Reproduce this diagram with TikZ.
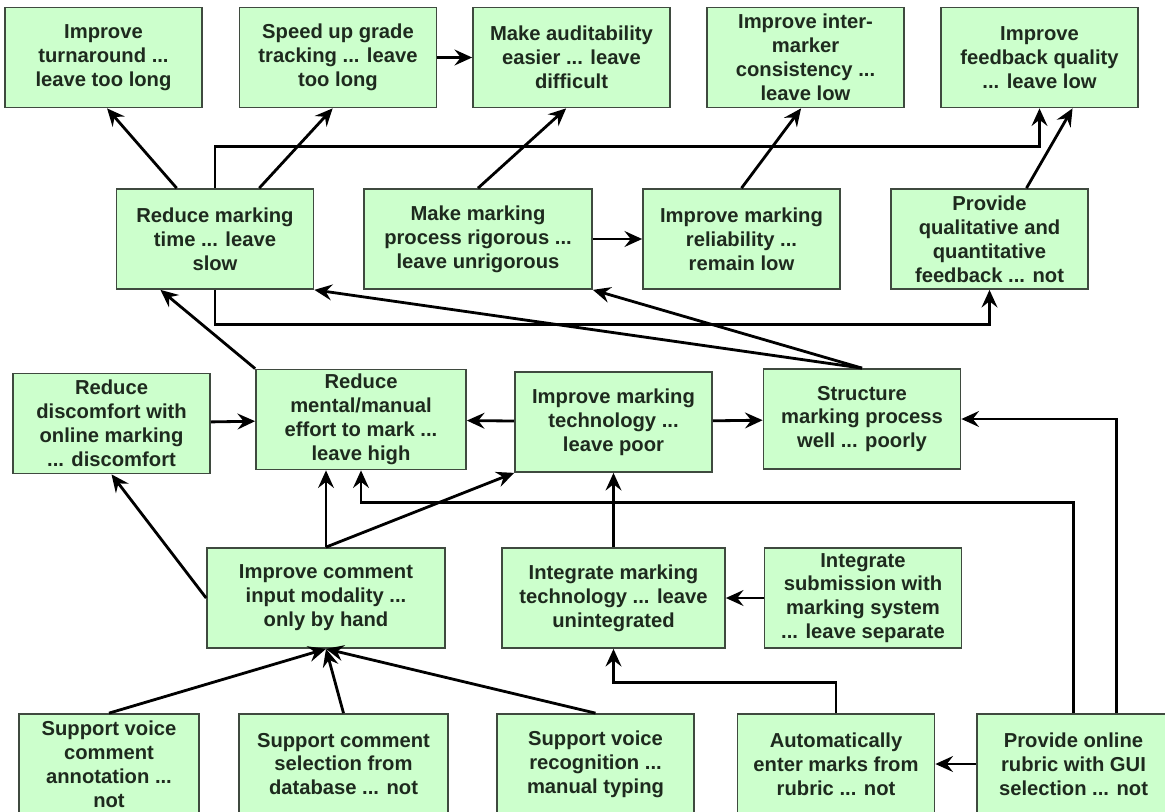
\documentclass[tikz,border=0pt]{standalone}
\usepackage{fontspec}
\setmainfont{Liberation Sans}
\usetikzlibrary{arrows.meta}
\definecolor{boxfill}{HTML}{CCFFCC}
\definecolor{boxline}{HTML}{3F4A3F}
\definecolor{boxtext}{HTML}{1E2A1E}
\begin{document}
\begin{tikzpicture}[x=0.02cm,y=-0.02cm,
	goal/.style={draw=boxline,line width=1pt,fill=boxfill,text=boxtext,
		font=\bfseries\fontsize{11.5}{13.6}\selectfont,align=center,inner sep=0pt,
		minimum width=3.94cm,minimum height=2cm},
	link/.style={line width=1.6pt,-{Stealth[length=10pt,width=9pt,inset=3.5pt]}}]
	\clip (0,0) rectangle (1165,811);
	% obere Reihe
	\node[goal] (turnaround) at (103.5,57.5) {Improve\\turnaround ...\\leave too long};
	\node[goal] (gradetrack) at (338,57.5) {Speed up grade\\tracking ... leave\\too long};
	\node[goal] (audit) at (571.5,57.5) {Make auditability\\easier ... leave\\difficult};
	\node[goal] (consist) at (805.5,57.5) {Improve inter-\\marker\\consistency ...\\leave low};
	\node[goal] (fbquality) at (1039.5,57.5) {Improve\\feedback quality\\... leave low};
	% zweite Reihe
	\node[goal] (marktime) at (215,239) {Reduce marking\\time ... leave\\slow};
	\node[goal,minimum width=4.56cm] (rigour) at (478,239) {Make marking\\process rigorous ...\\leave unrigorous};
	\node[goal] (reliab) at (741.5,239) {Improve marking\\reliability ...\\remain low};
	\node[goal] (qualfb) at (989.5,239) {Provide\\qualitative and\\quantitative\\feedback ... not};
	% dritte Reihe
	\node[goal] (discomfort) at (111.5,423.5) {Reduce\\discomfort with\\online marking\\... discomfort};
	\node[goal,minimum width=4.2cm] (effort) at (361,419.5) {Reduce\\mental/manual\\effort to mark ...\\leave high};
	\node[goal] (tech) at (613.5,422) {Improve marking\\technology ...\\leave poor};
	\node[goal] (structure) at (862,419) {Structure\\marking process\\well ... poorly};
	% vierte Reihe
	\node[goal,minimum width=4.76cm] (modality) at (326,598) {Improve comment\\input modality ...\\only by hand};
	\node[goal,minimum width=4.46cm] (integrate) at (613.5,598) {Integrate marking\\technology ... leave\\unintegrated};
	\node[goal] (submission) at (863,598) {Integrate\\submission with\\marking system\\... leave separate};
	% untere Reihe
	\node[goal,minimum width=3.6cm] (voiceann) at (109,764) {Support voice\\comment\\annotation ...\\not};
	\node[goal,minimum width=4.18cm] (commentdb) at (343.5,764) {Support comment\\selection from\\database ... not};
	\node[goal] (voicerec) at (595.5,764) {Support voice\\recognition ...\\manual typing};
	\node[goal] (automarks) at (836,764) {Automatically\\enter marks from\\rubric ... not};
	\node[goal,minimum width=3.86cm] (rubric) at (1073.5,764) {Provide online\\rubric with GUI\\selection ... not};
	% Pfeile oben
	\draw[link] (marktime.127) to (turnaround.-86);
	\draw[link] (marktime.49) to (gradetrack.-96);
	\draw[link] (gradetrack) to (audit);
	\draw[link] (rigour.north) to (audit.-96);
	\draw[link] (rigour) to (reliab);
	\draw[link] (reliab.north) to (consist.-95);
	\draw[link] (qualfb.54) to (fbquality.-57);
	\draw[link] (marktime.north) -- ++(0,-42) -| (fbquality.south);
	\draw[link] (marktime.south) -- ++(0,35) -| (qualfb.south);
	% Pfeile Mitte
	\draw[link] (structure.north) to (marktime.south east);
	\draw[link] (structure.north) to (rigour.south east);
	\draw[link] (effort.north west) to (marktime.-137);
	\draw[link] (discomfort) to (effort);
	\draw[link] (tech) to (effort);
	\draw[link] (tech) to (structure);
	\draw[link] (modality.north) to (modality.north |- effort.south);
	\draw[link] (modality.north) to (tech.south west);
	\draw[link] (modality.west) to (discomfort.south);
	\draw[link] (integrate) to (tech);
	\draw[link] (submission) to (integrate);
	% Pfeile unten
	\draw[link] (automarks.north) -- ++(0,-31) -| (integrate.south);
	\draw[link] (rubric) to (automarks);
	\draw[link] (rubric.50) |- (structure.east);
	\draw[link] (rubric.north) -- ++(0,-211) -| (effort.south);
	\draw[link] (voiceann.north) to (modality.south);
	\draw[link] (commentdb.north) to (modality.south);
	\draw[link] (voicerec.north) to (modality.south);
\end{tikzpicture}
\end{document}
